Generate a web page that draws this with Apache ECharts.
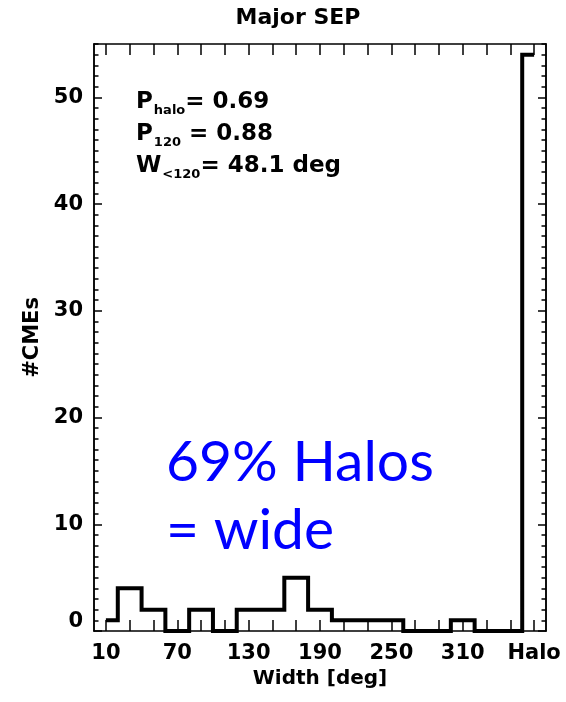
<!DOCTYPE html>
<html>
<head>
<meta charset="utf-8">
<title>Major SEP</title>
<script src="https://cdn.jsdelivr.net/npm/echarts@6/dist/echarts.min.js"></script>
<style>
  html, body { margin: 0; padding: 0; background: #ffffff; }
  #chart { width: 566px; height: 702px; }
</style>
</head>
<body>
<div id="chart"></div>
<script>
// Angular widths of CMEs associated with major SEP events.
// 20-deg bins centred on binCenters; the last bin (370) collects full halos.
const binCenters  = [10, 30, 50, 70, 90, 110, 130, 150, 170, 190, 210, 230, 250, 270, 290, 310, 330, 350, 370];
const cmeCounts   = [1, 4, 2, 0, 2, 0, 2, 2, 5, 2, 1, 1, 1, 0, 0, 1, 0, 0, 54];
const xTickLabels = [10, 70, 130, 190, 250, 310, 370];
const haloPosition = 370;
const yTickLabels = [0, 10, 20, 30, 40, 50];
const statLines = [
  ['P', 'halo', '= 0.69'],
  ['P', '120', ' = 0.88'],
  ['W', '<120', '= 48.1 deg']
];
const noteLines = ['69% Halos', '= wide'];

const FONT = 'DejaVu Sans';
const INK = '#000000';

const yMinorTicks = [];
for (let v = 0; v <= 55; v++) yMinorTicks.push(v);

const chart = echarts.init(document.getElementById('chart'), null, { renderer: 'canvas' });

const hideAll = { show: false };

function xAxisDef(position, withLabels) {
  return {
    type: 'value', position: position, min: 0, max: 380,
    axisLine: { show: true, onZero: false, lineStyle: { color: INK, width: 1.5 } },
    axisTick: { show: true, inside: true, length: 11, customValues: binCenters,
                lineStyle: { color: INK, width: 1.5 } },
    axisLabel: withLabels ? {
      show: true, customValues: xTickLabels, margin: 12,
      color: INK, fontFamily: FONT, fontWeight: 'bold', fontSize: 21,
      formatter: v => (v === haloPosition ? 'Halo' : String(v))
    } : { show: false },
    splitLine: hideAll,
    name: withLabels ? 'Width [deg]' : '',
    nameLocation: 'middle', nameGap: 35,
    nameTextStyle: { color: INK, fontFamily: FONT, fontWeight: 'bold', fontSize: 20 }
  };
}

function yAxisDef(position, major, withLabels) {
  return {
    type: 'value', position: position, min: 0, max: 55,
    axisLine: { show: true, onZero: false, lineStyle: { color: INK, width: 1.5 } },
    axisTick: { show: true, inside: true, length: major ? 8 : 4.5,
                customValues: major ? yTickLabels : yMinorTicks,
                lineStyle: { color: INK, width: 1.5 } },
    axisLabel: withLabels ? {
      show: true, customValues: yTickLabels, margin: 11,
      color: INK, fontFamily: FONT, fontWeight: 'bold', fontSize: 21,
      formatter: v => (v === 0 ? '{z|0}' : String(v)),
      rich: { z: { color: INK, fontFamily: FONT, fontWeight: 'bold', fontSize: 21, padding: [0, 0, 18, 0] } }
    } : { show: false },
    splitLine: hideAll,
    name: withLabels ? '#CMEs' : '',
    nameLocation: 'middle', nameGap: 22, nameRotate: 90,
    nameTextStyle: { color: INK, fontFamily: FONT, fontWeight: 'bold', fontSize: 21 }
  };
}

// Statistics block: main glyph, lowered subscript, value
const statRich = {
  m: { fontFamily: FONT, fontWeight: 'bold', fontSize: 23, color: INK, lineHeight: 32, verticalAlign: 'bottom' },
  s: { fontFamily: FONT, fontWeight: 'bold', fontSize: 13, color: INK, lineHeight: 13, verticalAlign: 'bottom', padding: [0, 0, -3, 1] }
};
const statText = statLines.map(l => `{m|${l[0]}}{s|${l[1]}}{m|${l[2]}}`).join('\n');

chart.setOption({
  animation: false,
  backgroundColor: '#ffffff',
  grid: { left: 94, right: 20, top: 44, bottom: 71, containLabel: false },
  xAxis: [xAxisDef('bottom', true), xAxisDef('top', false)],
  yAxis: [
    yAxisDef('left', true, true),
    yAxisDef('left', false, false),
    yAxisDef('right', true, false),
    yAxisDef('right', false, false)
  ],
  series: [{
    type: 'line',
    xAxisIndex: 0, yAxisIndex: 0,
    data: binCenters.map((x, i) => [x, cmeCounts[i]]),
    step: 'middle',
    symbol: 'none',
    clip: false,
    z: 5,
    lineStyle: { color: INK, width: 4, join: 'miter', cap: 'butt' }
  }],
  graphic: [
    {
      type: 'text', x: 298, y: 18, z: 10,
      style: { text: 'Major SEP', fill: INK, font: `bold 22px "${FONT}"`, align: 'center', verticalAlign: 'middle' }
    },
    {
      type: 'text', x: 136, y: 82, z: 10,
      style: { text: statText, rich: statRich }
    },
    {
      type: 'text', x: 166, y: 429, z: 10,
      style: { text: noteLines.join('\n'), fill: '#0000ff', font: '57px "Lato"', lineHeight: 68 }
    }
  ]
});
</script>
</body>
</html>
